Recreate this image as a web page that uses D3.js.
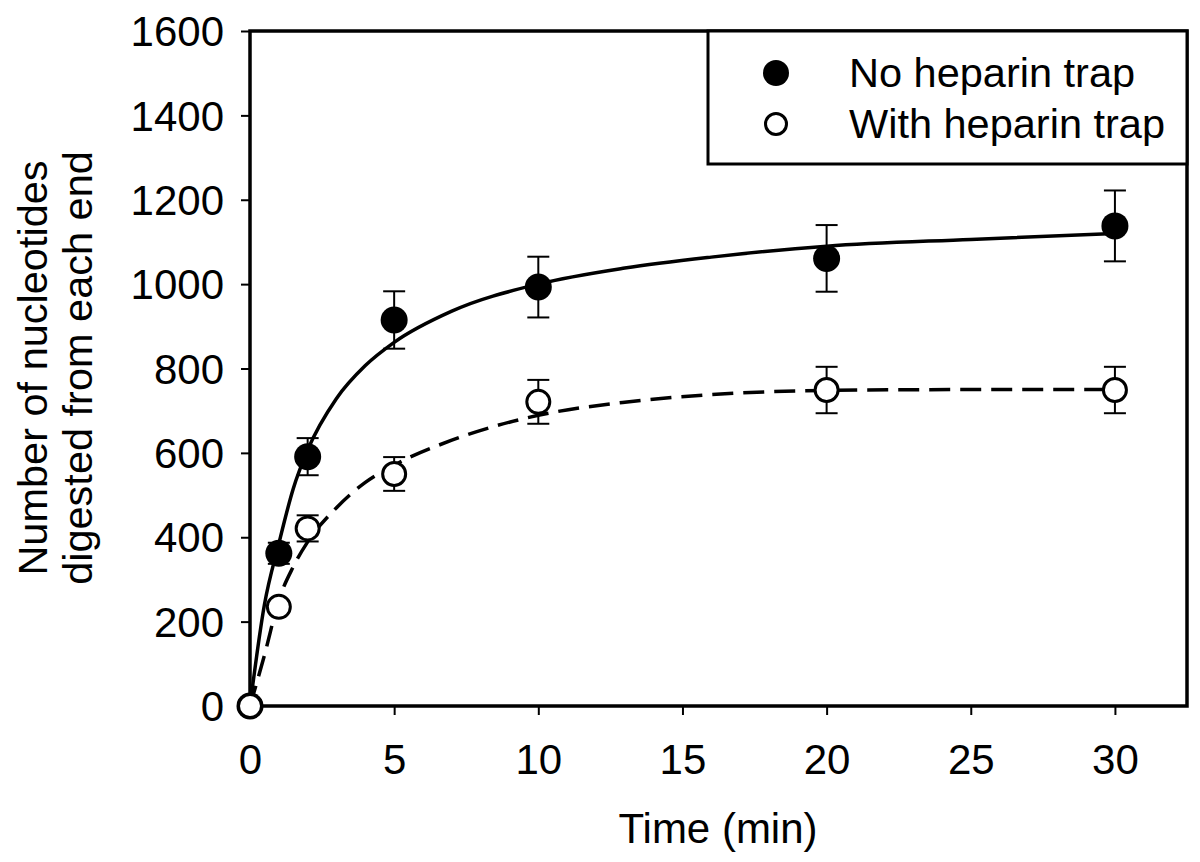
<!DOCTYPE html>
<html>
<head>
<meta charset="utf-8">
<script src="https://cdn.jsdelivr.net/npm/d3@7"></script>
<style>
  html, body { margin: 0; padding: 0; background: #fff; }
  svg { display: block; }
  text { font-family: "Liberation Sans", Arial, sans-serif; fill: #000; }
</style>
</head>
<body>
<svg id="chart" width="1200" height="862"></svg>
<script>
// ---- data ----
const times = [0, 1, 2, 5, 10, 20, 30];
const noTrap = [0, 362, 591, 915, 993, 1061, 1138];
const noTrapErr = [0, 25, 44, 68, 72, 79, 84];
const withTrap = [0, 235, 421, 550, 721, 749, 749];
const withTrapErr = [0, 0, 31, 40, 52, 55, 55];

// fitted curves
const fitT = [0, 0.5, 1, 1.5, 2, 3, 4, 5, 7, 10, 13, 16, 20, 25, 30];
const fitNoTrap = [0, 240, 385, 515, 607, 729, 807, 862, 936, 1000, 1038, 1064, 1090, 1106, 1120];
const fitWithTrap = [0, 120, 251, 330, 389, 470, 530, 571, 630, 689, 720, 738, 748, 750, 750];

const xTicks = [0, 5, 10, 15, 20, 25, 30];
const yTicks = [0, 200, 400, 600, 800, 1000, 1200, 1400, 1600];
const legendLabels = ["No heparin trap", "With heparin trap"];
const xTitle = "Time (min)";
const yTitle = ["Number of nucleotides", "digested from each end"];

// ---- layout ----
const L = 250, R = 1187, T = 31, B = 706;
const svg = d3.select("#chart");
const x = d3.scaleLinear().domain([0, 32.5]).range([L, R]);
const y = d3.scaleLinear().domain([0, 1600]).range([B, T]);

// axes
const xAxis = svg.append("g").attr("transform", `translate(0,${B})`)
  .call(d3.axisBottom(x).tickValues(xTicks).tickSize(9).tickPadding(29).tickFormat(d3.format("d")));
const yAxis = svg.append("g").attr("transform", `translate(${L},0)`)
  .call(d3.axisLeft(y).tickValues(yTicks).tickSize(9).tickPadding(17).tickFormat(d3.format("d")));
[xAxis, yAxis].forEach(g => {
  g.select(".domain").remove();
  g.selectAll(".tick line").attr("stroke", "#000").attr("stroke-width", 2);
  g.selectAll(".tick text").attr("font-size", 42).attr("font-family", "Liberation Sans, Arial, sans-serif").attr("fill", "#000");
});
yAxis.selectAll(".tick text").attr("dy", "0.35em");
xAxis.selectAll(".tick text").attr("dy", "0.71em");

// frame
svg.append("rect").attr("x", L).attr("y", T).attr("width", R - L).attr("height", B - T)
  .attr("fill", "none").attr("stroke", "#000").attr("stroke-width", 3.5);

// curves
const line = d3.line().x(d => x(d[0])).y(d => y(d[1])).curve(d3.curveMonotoneX);
svg.append("path").datum(fitT.map((t, i) => [t, fitNoTrap[i]]))
  .attr("d", line).attr("fill", "none").attr("stroke", "#000").attr("stroke-width", 3.5);
svg.append("path").datum(fitT.map((t, i) => [t, fitWithTrap[i]]))
  .attr("d", line).attr("fill", "none").attr("stroke", "#000").attr("stroke-width", 3.5)
  .attr("stroke-dasharray", "21,10");

// error bars
function errorBars(vals, errs) {
  const g = svg.append("g").attr("stroke", "#000").attr("stroke-width", 2);
  times.forEach((t, i) => {
    if (!errs[i]) return;
    const cx = x(t), y1 = y(vals[i] + errs[i]), y2 = y(vals[i] - errs[i]);
    g.append("line").attr("x1", cx).attr("x2", cx).attr("y1", y1).attr("y2", y2);
    g.append("line").attr("x1", cx - 11).attr("x2", cx + 11).attr("y1", y1).attr("y2", y1);
    g.append("line").attr("x1", cx - 11).attr("x2", cx + 11).attr("y1", y2).attr("y2", y2);
  });
}
errorBars(noTrap, noTrapErr);
errorBars(withTrap, withTrapErr);

// points
svg.append("g").selectAll("circle").data(times).join("circle")
  .attr("cx", d => x(d)).attr("cy", (d, i) => y(noTrap[i])).attr("r", 13.5).attr("fill", "#000");
svg.append("g").selectAll("circle").data(times).join("circle")
  .attr("cx", d => x(d)).attr("cy", (d, i) => y(withTrap[i])).attr("r", 11.5)
  .attr("fill", "#fff").attr("stroke", "#000").attr("stroke-width", 3);

// legend
const lg = svg.append("g");
lg.append("rect").attr("x", 708).attr("y", T).attr("width", R - 708).attr("height", 133)
  .attr("fill", "#fff").attr("stroke", "#000").attr("stroke-width", 3);
lg.append("circle").attr("cx", 776).attr("cy", 73).attr("r", 13).attr("fill", "#000");
lg.append("circle").attr("cx", 776).attr("cy", 124).attr("r", 10.5).attr("fill", "#fff")
  .attr("stroke", "#000").attr("stroke-width", 3);
lg.append("text").attr("x", 849).attr("y", 87).attr("font-size", 41.5).text(legendLabels[0]);
lg.append("text").attr("x", 849).attr("y", 138).attr("font-size", 41.5).text(legendLabels[1]);

// titles
svg.append("text").attr("x", 718).attr("y", 843).attr("text-anchor", "middle")
  .attr("font-size", 42).text(xTitle);
const yt = svg.append("text").attr("transform", `translate(0,368) rotate(-90)`)
  .attr("text-anchor", "middle").attr("font-size", 41.5);
yt.append("tspan").attr("x", 0).attr("y", 47).text(yTitle[0]);
yt.append("tspan").attr("x", 0).attr("y", 92).text(yTitle[1]);
</script>
</body>
</html>
